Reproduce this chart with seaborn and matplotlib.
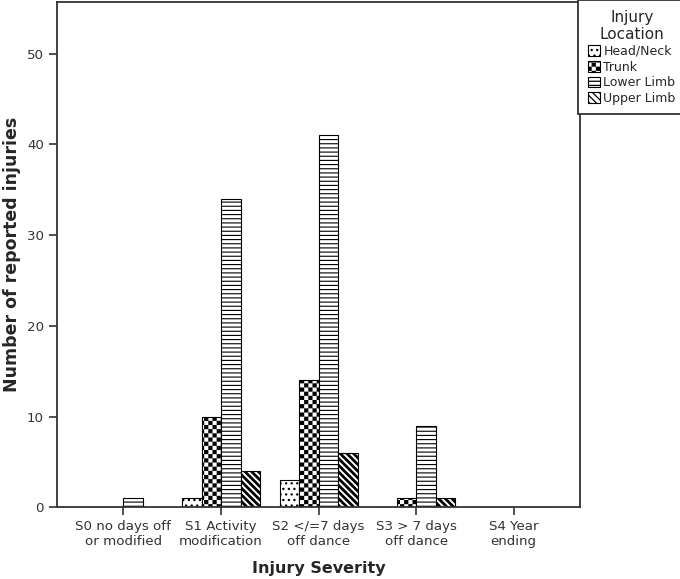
import warnings
import numpy as np
import pandas as pd
import seaborn as sns
import matplotlib
matplotlib.use("Agg")
import matplotlib.pyplot as plt
import matplotlib.hatch as mhatch
from matplotlib.path import Path

warnings.filterwarnings("ignore")

severity = ["S0 no days off\nor modified", "S1 Activity\nmodification",
            "S2 </=7 days\noff dance", "S3 > 7 days\noff dance", "S4 Year\nending"]
locations = ["Head/Neck", "Trunk", "Lower Limb", "Upper Limb"]
head_neck = [0, 1, 3, 0, 0]
trunk = [0, 10, 14, 1, 0]
lower_limb = [1, 34, 41, 9, 0]
upper_limb = [0, 4, 6, 1, 0]


# checkerboard hatch (SPSS style) registered under the letter "c"
class CheckerHatch(mhatch.HatchPatternBase):
    inset = 0.006

    def __init__(self, hatch, density):
        self.n = hatch.count("c") * density
        self.cells = [(i, j) for i in range(self.n) for j in range(self.n) if (i + j) % 2 == 0]
        self.num_vertices = len(self.cells) * 5

    def set_vertices_and_codes(self, vertices, codes):
        s = 1.0 / self.n
        d = self.inset
        k = 0
        for i, j in self.cells:
            x0, y0 = i * s + d, j * s + d
            x1, y1 = (i + 1) * s - d, (j + 1) * s - d
            vertices[k:k + 5] = [(x0, y0), (x1, y0), (x1, y1), (x0, y1), (x0, y0)]
            codes[k:k + 5] = [Path.MOVETO, Path.LINETO, Path.LINETO, Path.LINETO, Path.CLOSEPOLY]
            k += 5


mhatch._hatch_types.append(CheckerHatch)

rows = []
for loc, vals in zip(locations, [head_neck, trunk, lower_limb, upper_limb]):
    for sev, v in zip(severity, vals):
        rows.append({"severity": sev, "location": loc, "count": v})
df = pd.DataFrame(rows)

sns.set_style("white")
plt.rcParams["font.family"] = ["DejaVu Sans"]
plt.rcParams["hatch.linewidth"] = 0.9

fig = plt.figure(figsize=(6.8, 5.79), dpi=100)
ax = fig.add_axes([0.084, 0.124, 0.769, 0.8725])

sns.barplot(data=df, x="severity", y="count", hue="location", hue_order=locations,
            order=severity, palette=["white"] * 4, edgecolor="black", linewidth=0.8,
            saturation=1, legend=False, ax=ax)

hatches = ["...", "cccc", "----", "\\\\\\\\\\"]
hatch_lw = [0.9, 0.9, 0.8, 2.0]
for cont, h, lw in zip(ax.containers, hatches, hatch_lw):
    for bar in cont.patches:
        bar.set_hatch(h)
        bar.set_edgecolor("black")
        if hasattr(bar, "set_hatch_linewidth"):
            bar.set_hatch_linewidth(lw)

ax.set_xlim(-0.68, 4.68)
ax.set_ylim(0, 55.7)
ax.set_yticks([0, 10, 20, 30, 40, 50])

for sp in ax.spines.values():
    sp.set_visible(True)
    sp.set_linewidth(1.3)
    sp.set_color("#333333")

ax.tick_params(axis="both", direction="out", length=6, width=1.2, color="#333333",
               labelsize=9.6, labelcolor="#333333", bottom=True, left=True)
ax.set_xlabel("Injury Severity", fontsize=11.5, fontweight="bold", labelpad=9)
ax.set_ylabel("Number of reported injuries", fontsize=12.5, fontweight="bold", labelpad=4)

leg = ax.legend(ax.containers, locations, title="Injury\nLocation",
                loc="upper left", bbox_to_anchor=(0.997, 1.0035), borderaxespad=0,
                fontsize=9, title_fontsize=11, handlelength=0.95, handleheight=0.95,
                handletextpad=0.3, labelspacing=0.22, borderpad=0.75, fancybox=False,
                edgecolor="#333333", framealpha=1, alignment="center")
leg.get_title().set_multialignment("center")
leg.get_frame().set_linewidth(1.3)

fig.savefig("out.png", dpi=100)
